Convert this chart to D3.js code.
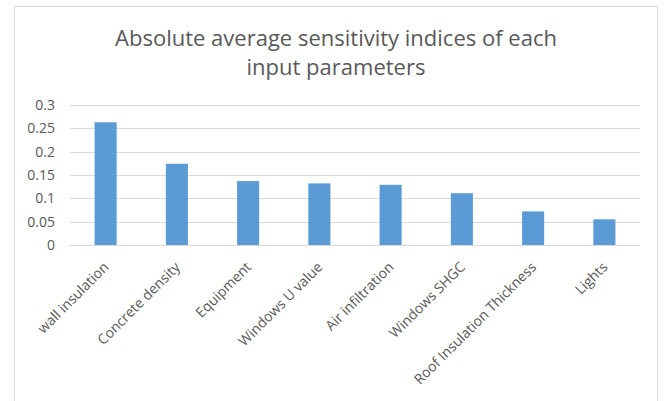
<!DOCTYPE html>
<html>
<head>
<meta charset="utf-8">
<script src="https://cdn.jsdelivr.net/npm/d3@7"></script>
<style>
  body { margin: 0; background: #fff; }
  svg { display: block; }
</style>
</head>
<body>
<div id="chart"></div>
<script>
// Data
const categories = ["wall insulation", "Concrete density", "Equipment", "Windows U value",
    "Air infiltration", "Windows SHGC", "Roof Insulation Thickness", "Lights"];
const values = [0.263, 0.174, 0.137, 0.132, 0.129, 0.111, 0.072, 0.055];
const yTicks = [0, 0.05, 0.1, 0.15, 0.2, 0.25, 0.3];
const titleLines = ["Absolute average sensitivity indices of each", "input parameters"];

const width = 664, height = 401;
const plot = { left: 70, right: 640, top: 105, bottom: 245 };
const textColor = "#595959";
const fontFamily = "'Open Sans', 'Noto Sans', sans-serif";

const svg = d3.select("#chart").append("svg")
    .attr("width", width)
    .attr("height", height);

// chart frame
svg.append("rect")
    .attr("x", 14.5).attr("y", 6.5)
    .attr("width", 643).attr("height", 420)
    .attr("fill", "#fff")
    .attr("stroke", "#d9d9d9")
    .attr("stroke-width", 1);

// title
svg.append("g")
    .selectAll("text")
    .data(titleLines)
    .enter()
    .append("text")
    .attr("x", 336)
    .attr("y", (d, i) => 46 + i * 29)
    .attr("text-anchor", "middle")
    .style("fill", textColor)
    .style("font-family", fontFamily)
    .style("font-size", "22px")
    .text(d => d);

const x = d3.scaleBand()
    .domain(categories)
    .range([plot.left, plot.right])
    .paddingInner(0.69)
    .paddingOuter(0.345);

const y = d3.scaleLinear()
    .domain([0, 0.3])
    .range([plot.bottom, plot.top]);

// gridlines
svg.append("g")
    .selectAll("line")
    .data(yTicks)
    .enter()
    .append("line")
    .attr("x1", plot.left).attr("x2", plot.right)
    .attr("y1", d => Math.round(y(d)) + 0.5)
    .attr("y2", d => Math.round(y(d)) + 0.5)
    .attr("stroke", "#d9d9d9")
    .attr("stroke-width", 1);

// y axis labels
const yAxis = d3.axisLeft(y)
    .tickValues(yTicks)
    .tickSize(0)
    .tickPadding(15)
    .tickFormat(d => d3.format("")(+d.toFixed(2)));

const yG = svg.append("g")
    .attr("transform", `translate(${plot.left},0)`)
    .call(yAxis);
yG.select(".domain").remove();
yG.selectAll("text")
    .style("fill", textColor)
    .style("font-family", fontFamily)
    .style("font-size", "14px");

// bars
svg.append("g")
    .selectAll("rect")
    .data(values)
    .enter()
    .append("rect")
    .attr("x", (d, i) => x(categories[i]))
    .attr("width", x.bandwidth())
    .attr("y", d => y(d))
    .attr("height", d => y(0) - y(d))
    .attr("fill", "#5b9bd5");

// x axis labels, rotated
const xAxis = d3.axisBottom(x).tickSize(0).tickPadding(0);
const xG = svg.append("g")
    .attr("transform", `translate(0,${plot.bottom})`)
    .call(xAxis);
xG.select(".domain").remove();
xG.selectAll("text")
    .attr("text-anchor", "end")
    .attr("dy", null)
    .attr("y", 0)
    .attr("transform", "translate(4,23) rotate(-45)")
    .style("fill", textColor)
    .style("font-family", fontFamily)
    .style("font-size", "14px");
</script>
</body>
</html>
